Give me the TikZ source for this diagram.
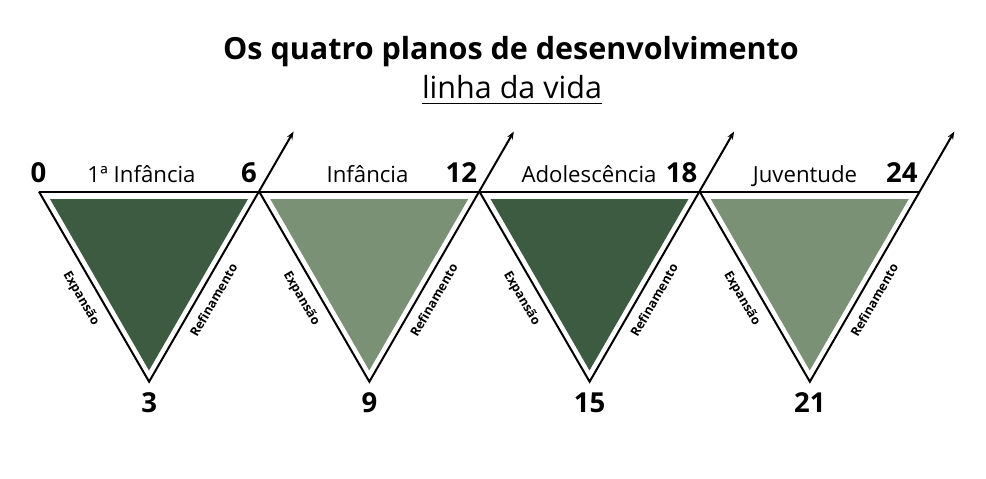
\documentclass[tikz,border=0pt]{standalone}
\usepackage{fontspec}
\setmainfont{Open Sans}
\usetikzlibrary{arrows.meta}
\definecolor{darkg}{HTML}{3D5B40}
\definecolor{lightg}{HTML}{7B9175}
\begin{document}
\begin{tikzpicture}[x=1pt,y=-1pt,
  edge/.style={line width=2pt, black, line join=miter},
  num/.style={font=\fontsize{27.5}{29}\selectfont\bfseries, inner sep=0pt},
  phase/.style={font=\fontsize{22.2}{24}\selectfont, inner sep=0pt},
  side/.style={font=\fontsize{12.6}{14}\selectfont\bfseries, inner sep=0pt},
  ttl/.style={font=\fontsize{30.5}{33}\selectfont\bfseries, inner sep=0pt},
  sub/.style={font=\fontsize{30.5}{33}\selectfont, inner sep=0pt}]
\useasboundingbox (0,0) rectangle (986,479);
\fill[white] (0,0) rectangle (986,479);

\node[ttl, anchor=base] (title) at (511,59) {Os quatro planos de desenvolvimento};
\node[sub, anchor=base] (subtitle) at (512,98) {linha da vida};
\draw[line width=1.6pt] (subtitle.base west) ++(0,5.5) coordinate (u1) -- (subtitle.base east |- u1) coordinate (u2);

\foreach \i/\col/\nm/\cx/\tn/\bn in {0/darkg/1ª Infância/141.5/6/3, 1/lightg/Infância/367.5/12/9, 2/darkg/Adolescência/589/18/15, 3/lightg/Juventude/805/24/21}{
  \pgfmathsetmacro{\xx}{39+220.25*\i}
  \coordinate (L\i) at (\xx,191.7);
  \coordinate (R\i) at ({\xx+220.25},191.7);
  \coordinate (B\i) at ({\xx+110.1},381.7);
  \coordinate (A\i) at ({\xx+110.1+144.5},131.5);
  \fill[\col] ({\xx+11},199) -- ({\xx+209},199) -- ({\xx+110},370.5) -- cycle;
  \draw[edge, -{Stealth[length=8pt,width=6pt]}] (L\i) -- (B\i) -- (A\i);
  \node[phase, anchor=base] (ph\i) at (\cx,182.5) {\nm};
  \node[num, anchor=base east] (tn\i) at ({\xx+218},182.5) {\tn};
  \node[num, anchor=base] (bn\i) at ({\xx+110.1},412) {\bn};
  \node[side, rotate=-60] (ex\i) at ({\xx+42},298.5) {Expansão};
  \node[side, rotate=60] (rf\i) at ({\xx+174.5},300) {Refinamento};
}
\draw[edge] (L0) -- (R3);
\node[num, anchor=base] (n0) at (38.5,182.5) {0};
\end{tikzpicture}
\end{document}
